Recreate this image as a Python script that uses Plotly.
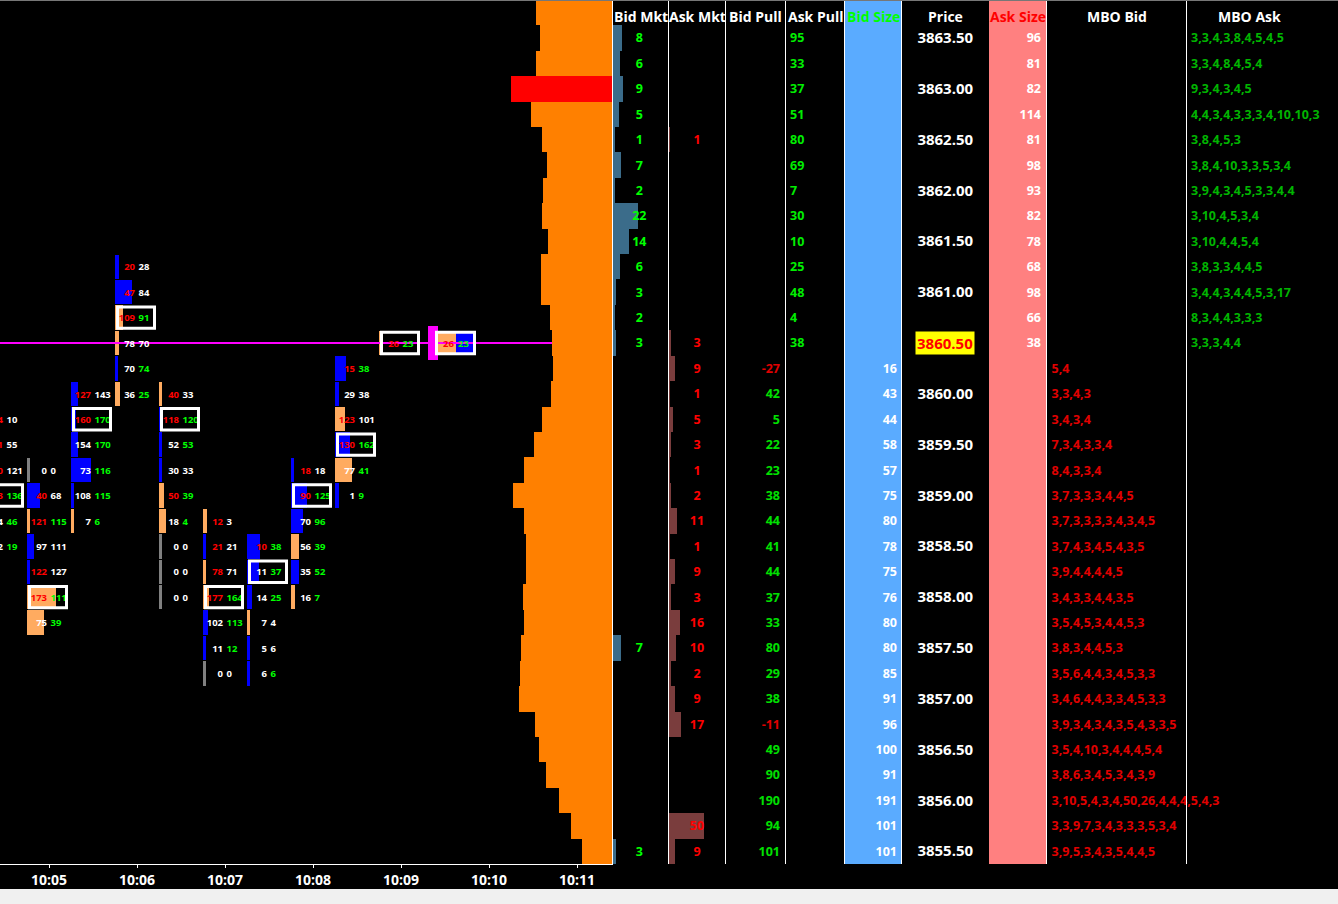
import plotly.graph_objects as go

# ======================= DATA =======================
ladder_prices = [3863.50, 3863.25, 3863.00, 3862.75, 3862.50, 3862.25, 3862.00, 3861.75,
                 3861.50, 3861.25, 3861.00, 3860.75, 3860.50, 3860.25, 3860.00, 3859.75,
                 3859.50, 3859.25, 3859.00, 3858.75, 3858.50, 3858.25, 3858.00, 3857.75,
                 3857.50, 3857.25, 3857.00, 3856.75, 3856.50, 3856.25, 3856.00, 3855.75,
                 3855.50]
last_price = 3860.50

time_tick_labels = ["10:05", "10:06", "10:07", "10:08", "10:09", "10:10", "10:11"]

# volume profile (session), one value per price row incl. the partially visible 3863.75 row
profile_prices = [3863.75] + ladder_prices
profile_volume = [1925, 1825, 1925, 2550, 2050, 1775, 1650, 1750, 1775, 1625, 1800, 1800,
                  1575, 1525, 1500, 1550, 1775, 1975, 2225, 2500, 2225, 2175, 2175, 2250,
                  2225, 2300, 2325, 2350, 1950, 1850, 1675, 1350, 1050, 775]

# footprint cells (30-second bars, labelled by bar centre time)
fp_time = (["10:04:30"] * 6 + ["10:05:00"] * 7 + ["10:05:30"] * 6 + ["10:06:00"] * 6 +
           ["10:06:30"] * 9 + ["10:07:00"] * 7 + ["10:07:30"] * 6 + ["10:08:00"] * 6 +
           ["10:08:30"] * 6 + ["10:09:00"] * 1)
fp_price = [3859.75, 3859.50, 3859.25, 3859.00, 3858.75, 3858.50,
            3859.25, 3859.00, 3858.75, 3858.50, 3858.25, 3858.00, 3857.75,
            3860.00, 3859.75, 3859.50, 3859.25, 3859.00, 3858.75,
            3861.25, 3861.00, 3860.75, 3860.50, 3860.25, 3860.00,
            3860.00, 3859.75, 3859.50, 3859.25, 3859.00, 3858.75, 3858.50, 3858.25, 3858.00,
            3858.75, 3858.50, 3858.25, 3858.00, 3857.75, 3857.50, 3857.25,
            3858.50, 3858.25, 3858.00, 3857.75, 3857.50, 3857.25,
            3859.25, 3859.00, 3858.75, 3858.50, 3858.25, 3858.00,
            3860.25, 3860.00, 3859.75, 3859.50, 3859.25, 3859.00,
            3860.50]
fp_bid = [14, 61, 130, 133, 44, 12,
          0, 40, 121, 97, 122, 173, 75,
          127, 160, 154, 73, 108, 7,
          20, 47, 109, 78, 70, 36,
          40, 118, 52, 30, 50, 18, 0, 0, 0,
          12, 21, 78, 177, 102, 11, 0,
          10, 11, 14, 7, 5, 6,
          18, 90, 70, 56, 35, 16,
          15, 29, 123, 130, 77, 1,
          26]
fp_ask = [10, 55, 121, 136, 46, 19,
          0, 68, 115, 111, 127, 111, 39,
          143, 170, 170, 116, 115, 6,
          28, 84, 91, 70, 74, 25,
          33, 120, 53, 33, 39, 4, 0, 0, 0,
          3, 21, 71, 164, 113, 12, 0,
          38, 37, 25, 4, 6, 6,
          18, 125, 96, 39, 52, 7,
          38, 38, 101, 162, 41, 9,
          23]
fp_bid_tone = list("rrrrww" "wrrwrrw" "rrwwww" "rrrwww" "rrwwrwwww" "rrrrwww" "rwwwww" "rrwwww" "rwrrww" "r")
fp_ask_tone = list("wwwggg" "wwgwwgg" "wggggg" "wwgwgg" "wggwggwww" "wwwgggw" "gggwwg" "wggggg" "gwwggg" "g")
fp_boxed = [0, 0, 0, 1, 0, 0,
            0, 0, 0, 0, 0, 1, 0,
            0, 1, 0, 0, 0, 0,
            0, 0, 1, 0, 0, 0,
            0, 1, 0, 0, 0, 0, 0, 0, 0,
            0, 0, 0, 1, 0, 0, 0,
            0, 1, 0, 0, 0, 0,
            0, 1, 0, 0, 0, 0,
            0, 0, 0, 1, 0, 0,
            1]

# live (forming) bar
live_time = "10:09:30"
live_bid = 26
live_ask = 23

N = None
# DOM ladder columns, one entry per ladder price
bid_mkt = [8, 6, 9, 5, 1, 7, 2, 22, 14, 6, 3, 2, 3, N, N, N, N, N, N, N, N, N, N, N,
           7, N, N, N, N, N, N, N, 3]
ask_mkt = [N, N, N, N, 1, N, N, N, N, N, N, N, 3, 9, 1, 5, 3, 1, 2, 11, 1, 9, 3, 16,
           10, 2, 9, 17, N, N, N, 50, 9]
bid_pull = [N] * 13 + [-27, 42, 5, 22, 23, 38, 44, 41, 44, 37, 33, 80, 29, 38, -11, 49,
                       90, 190, 94, 101]
ask_pull = [95, 33, 37, 51, 80, 69, 7, 30, 10, 25, 48, 4, 38] + [N] * 20
bid_size = [N] * 13 + [16, 43, 44, 58, 57, 75, 80, 78, 75, 76, 80, 80, 85, 91, 96, 100,
                       91, 191, 101, 101]
ask_size = [96, 81, 82, 114, 81, 98, 93, 82, 78, 68, 98, 66, 38] + [N] * 20
mbo_bid = [N] * 13 + ["5,4", "3,3,4,3", "3,4,3,4", "7,3,4,3,3,4", "8,4,3,3,4",
                      "3,7,3,3,3,4,4,5", "3,7,3,3,3,3,4,3,4,5", "3,7,4,3,4,5,4,3,5",
                      "3,9,4,4,4,4,5", "3,4,3,3,4,4,3,5", "3,5,4,5,3,4,4,5,3",
                      "3,8,3,4,4,5,3", "3,5,6,4,4,3,4,5,3,3", "3,4,6,4,4,3,3,4,5,3,3",
                      "3,9,3,4,3,4,3,5,4,3,3,5", "3,5,4,10,3,4,4,4,5,4",
                      "3,8,6,3,4,5,3,4,3,9", "3,10,5,4,3,4,50,26,4,4,4,5,4,3",
                      "3,3,9,7,3,4,3,3,3,5,3,4", "3,9,5,3,4,3,5,4,4,5"]
mbo_ask = ["3,3,4,3,8,4,5,4,5", "3,3,4,8,4,5,4", "9,3,4,3,4,5", "4,4,3,4,3,3,3,4,10,10,3",
           "3,8,4,5,3", "3,8,4,10,3,3,5,3,4", "3,9,4,3,4,5,3,3,4,4", "3,10,4,5,3,4",
           "3,10,4,4,5,4", "3,8,3,3,4,4,5", "3,4,4,3,4,4,5,3,17", "8,3,4,4,3,3,3",
           "3,3,3,4,4"] + [N] * 20

# ======================= LAYOUT CONSTANTS =======================
W, H = 1338, 904
GRID_BOTTOM = 864
HEADER_PX = 25.3
FONT = "Open Sans"
CHART_RIGHT = 612.5
PX_PER_MIN = 88.0
FIRST_TICK_PX = 49.0
PX = 1.0 / PX_PER_MIN       # minutes per pixel on the time axis
COL_MIN = 0.5               # 30-second columns
ROW = 0.25                  # tick size
TEXT_DY = -0.013            # nudge texts down ~1.3 px so digits sit centred in the row
FP_PX_PER_DELTA = 0.465
LIVE_PX_PER_LOT = 0.73
BIDMKT_PX = 1.15
ASKMKT_PX = 0.70
PROFILE_PER_PX = 25.0

RED, GREEN, WHITE = "#ff0000", "#00ff00", "#ffffff"
TONE = {"r": RED, "g": GREEN, "w": WHITE}


def to_min(s):
    parts = [int(v) for v in s.split(":")]
    sec = parts[2] if len(parts) > 2 else 0
    return (parts[0] - 10) * 60 + parts[1] + sec / 60.0


tick_vals = [to_min(t) for t in time_tick_labels]
x_lo = tick_vals[0] - FIRST_TICK_PX * PX
x_hi = x_lo + CHART_RIGHT * PX

row_px = (GRID_BOTTOM - HEADER_PX) / len(ladder_prices)
y_lo = min(ladder_prices) - ROW / 2
y_hi = max(ladder_prices) + ROW / 2 + ROW * HEADER_PX / row_px

fig = go.Figure()
shapes = []
annotations = []

# ---------------- footprint ----------------
fig.add_trace(go.Scatter(x=[x_lo, x_hi], y=[last_price, last_price], mode="lines",
                         line=dict(color="#ff00ff", width=2), hoverinfo="skip"))

centers = [to_min(t) for t in fp_time]
col_left = [c - COL_MIN / 2 for c in centers]
live_c = to_min(live_time)
live_l = live_c - COL_MIN / 2
live_split = live_l + 14 * PX + live_bid * LIVE_PX_PER_LOT * PX

# black fill behind boxed cells
bx_y = [p for p, b in zip(fp_price, fp_boxed) if b] + [last_price]
bx_base = [l + 1 * PX for l, b in zip(col_left, fp_boxed) if b] + [live_l + 12 * PX]
bx_len = [40 * PX] * (len(bx_y) - 1) + [41 * PX]
fig.add_trace(go.Bar(orientation="h", y=bx_y, x=bx_len, base=bx_base, width=0.236,
                     marker=dict(color="#000000", line=dict(width=0)), hoverinfo="skip"))

# delta bars
d_len, d_col = [], []
for b, a in zip(fp_bid, fp_ask):
    d = a - b
    d_len.append(max(3.0, FP_PX_PER_DELTA * abs(d)) * PX)
    if a == 0 and b == 0:
        d_col.append("#808080")
    elif a >= b:
        d_col.append("#0000ff")
    else:
        d_col.append("#ffab60")
fig.add_trace(go.Bar(orientation="h", y=fp_price, x=d_len, base=col_left, width=0.24,
                     marker=dict(color=d_col, line=dict(width=0)), hoverinfo="skip"))

# live bar: price marker + bid/ask split
fig.add_trace(go.Bar(orientation="h", y=[last_price], x=[9.5 * PX], base=[live_l + 5 * PX],
                     width=0.335, marker=dict(color="#ff00ff", line=dict(width=0)),
                     hoverinfo="skip"))
fig.add_trace(go.Bar(orientation="h", y=[last_price, last_price],
                     x=[live_bid * LIVE_PX_PER_LOT * PX, live_ask * LIVE_PX_PER_LOT * PX],
                     base=[live_l + 14 * PX, live_split], width=0.22,
                     marker=dict(color=["#ffab60", "#0000ff"], line=dict(width=0)),
                     hoverinfo="skip"))

# cell texts
fp_text_y = [p + TEXT_DY for p in fp_price + [last_price]]
fig.add_trace(go.Scatter(
    x=[c - 2 * PX for c in centers] + [live_split - 2 * PX],
    y=fp_text_y, mode="text",
    text=[str(v) for v in fp_bid] + [str(live_bid)], textposition="middle left",
    textfont=dict(family=FONT, size=9.5, weight="bold",
                  color=[TONE[t] for t in fp_bid_tone] + [RED]),
    hoverinfo="skip", cliponaxis=True))
fig.add_trace(go.Scatter(
    x=[c + 1.5 * PX for c in centers] + [live_split + 2 * PX],
    y=fp_text_y, mode="text",
    text=[str(v) for v in fp_ask] + [str(live_ask)], textposition="middle right",
    textfont=dict(family=FONT, size=9.5, weight="bold",
                  color=[TONE[t] for t in fp_ask_tone] + [GREEN]),
    hoverinfo="skip", cliponaxis=True))

# box borders
for l, p, b in zip(col_left, fp_price, fp_boxed):
    if b:
        shapes.append(dict(type="rect", xref="x", yref="y", x0=l + 2.5 * PX, x1=l + 39.5 * PX,
                           y0=p - 0.105, y1=p + 0.105, line=dict(color="white", width=3),
                           layer="above"))
shapes.append(dict(type="rect", xref="x", yref="y", x0=live_l + 13.5 * PX, x1=live_l + 51.5 * PX,
                   y0=last_price - 0.105, y1=last_price + 0.105,
                   line=dict(color="white", width=3), layer="above"))

# ---------------- volume profile (overlay axis, grows leftwards) ----------------
vmax = max(profile_volume)
fig.add_trace(go.Bar(orientation="h", y=profile_prices, x=profile_volume, width=ROW,
                     xaxis="x2", yaxis="y",
                     marker=dict(color=["#ff0000" if v == vmax else "#ff8000" for v in profile_volume],
                                 line=dict(width=0)), hoverinfo="skip"))

# ---------------- DOM ladder ----------------
columns = {
    "x3": (612.5, 668.5, "Bid Mkt", WHITE),
    "x4": (668.5, 725.5, "Ask Mkt", WHITE),
    "x5": (725.5, 785.5, "Bid Pull", WHITE),
    "x6": (785.5, 844.5, "Ask Pull", WHITE),
    "x7": (844.5, 901.5, "Bid Size", GREEN),
    "x8": (901.5, 989.0, "Price", WHITE),
    "x9": (989.0, 1046.5, "Ask Size", RED),
    "x10": (1046.5, 1186.5, "MBO Bid", WHITE),
    "x11": (1186.5, 1311.5, "MBO Ask", WHITE),
    "x12": (1311.5, 1338.0, "", WHITE),
}
ranges = {}
for ax, (l, r, _, _) in columns.items():
    w = r - l
    if ax == "x3":
        ranges[ax] = [0, w / BIDMKT_PX]
    elif ax == "x4":
        ranges[ax] = [0, w / ASKMKT_PX]
    else:
        ranges[ax] = [0, w]


def nonnull(vals):
    ys = [p for p, v in zip(ladder_prices, vals) if v is not None]
    vs = [v for v in vals if v is not None]
    return ys, vs


NUM = 12.5


def col_text(ax, x, pos, vals, colors, size=NUM):
    ys, vs = nonnull(vals)
    if not isinstance(colors, list):
        colors = [colors] * len(vs)
    fig.add_trace(go.Scatter(x=[x] * len(vs), y=[y + TEXT_DY for y in ys], mode="text",
                             text=[str(v) for v in vs],
                             textposition=pos, xaxis=ax, yaxis="y", cliponaxis=False,
                             textfont=dict(family=FONT, size=size, weight="bold", color=colors),
                             hoverinfo="skip"))


# bid/ask market bars
ys, vs = nonnull(bid_mkt)
fig.add_trace(go.Bar(orientation="h", y=ys, x=vs, width=ROW, xaxis="x3", yaxis="y",
                     marker=dict(color="#3b6c8a", line=dict(width=0)), hoverinfo="skip"))
ys, vs = nonnull(ask_mkt)
fig.add_trace(go.Bar(orientation="h", y=ys, x=vs, width=ROW, xaxis="x4", yaxis="y",
                     marker=dict(color="#7a3d3d", line=dict(width=0)), hoverinfo="skip"))
col_text("x3", ranges["x3"][1] / 2 - 1, "middle center", bid_mkt, GREEN)
col_text("x4", ranges["x4"][1] / 2, "middle center", ask_mkt, RED)
_, bp = nonnull(bid_pull)
col_text("x5", 54.5, "middle left", bid_pull, ["#00e000" if v > 0 else "#e00000" for v in bp])
col_text("x6", 4.5, "middle right", ask_pull, "#00ee00")
col_text("x7", 52.5, "middle left", bid_size, WHITE)
col_text("x9", 52.0, "middle left", ask_size, WHITE)
price_labels = [f"{p:.2f}" if (p * 2).is_integer() and p != last_price else None
                for p in ladder_prices]
col_text("x8", ranges["x8"][1] / 2, "middle center", price_labels, WHITE, size=15)
col_text("x10", 5.0, "middle right", mbo_bid, "#e00000")
col_text("x11", 4.5, "middle right", mbo_ask, "#00b400")

annotations.append(dict(xref="x8 domain", x=0.5, yref="y", y=last_price, yanchor="middle",
                        text=f"{last_price:.2f}",
                        showarrow=False, bgcolor="#ffff00", borderpad=1,
                        font=dict(family=FONT, size=15, weight="bold", color=RED)))

# column backgrounds
shapes.append(dict(type="rect", xref="x7 domain", x0=0, x1=1, yref="y domain", y0=0, y1=1,
                   fillcolor="#5aabff", line=dict(width=0), layer="below"))
shapes.append(dict(type="rect", xref="x9 domain", x0=0, x1=1, yref="y domain", y0=0, y1=1,
                   fillcolor="#ff8080", line=dict(width=0), layer="below"))
# separators
for ax in ["x3", "x4", "x5", "x6", "x7", "x8", "x10", "x11", "x12"]:
    shapes.append(dict(type="line", xref=f"{ax} domain", x0=0, x1=0, yref="y domain", y0=0, y1=1,
                       line=dict(color="white", width=1), layer="above"))
# headers
HEADER_Y = 1 - 16.5 / GRID_BOTTOM
for ax, (l, r, title, colr) in columns.items():
    if title:
        annotations.append(dict(xref=f"{ax} domain", x=0.5, yref="y domain", y=HEADER_Y,
                                xanchor="center", yanchor="middle", text=title, showarrow=False,
                                font=dict(family=FONT, size=14, weight="bold", color=colr)))
annotations.append(dict(xref="x12 domain", x=0.55, xanchor="left", yref="y domain",
                        y=HEADER_Y, yanchor="middle", text="Cu", showarrow=False,
                        font=dict(family=FONT, size=14, weight="bold", color=WHITE)))

# window chrome
shapes.append(dict(type="rect", xref="paper", x0=0, x1=1, yref="paper", y0=0, y1=15 / H,
                   fillcolor="#f0f0f0", line=dict(width=0), layer="above"))
shapes.append(dict(type="line", xref="paper", x0=0, x1=1, yref="paper", y0=1, y1=1,
                   line=dict(color="#777777", width=2), layer="above"))

layout = dict(
    width=W, height=H, margin=dict(l=0, r=0, t=0, b=0),
    paper_bgcolor="#000000", plot_bgcolor="#000000",
    showlegend=False, barmode="overlay", bargap=0, hovermode=False,
    font=dict(family=FONT, color=WHITE),
    shapes=shapes, annotations=annotations,
    xaxis=dict(domain=[0, CHART_RIGHT / W], range=[x_lo, x_hi], anchor="y",
               tickmode="array", tickvals=tick_vals, ticktext=time_tick_labels,
               ticks="outside", ticklen=3, tickwidth=1, tickcolor=WHITE,
               showline=True, linecolor=WHITE, linewidth=1, showgrid=False, zeroline=False,
               tickfont=dict(family=FONT, size=14, weight="bold", color=WHITE), fixedrange=True),
    xaxis2=dict(overlaying="x", anchor="y", range=[CHART_RIGHT * PROFILE_PER_PX, 0],
                visible=False, fixedrange=True),
    yaxis=dict(domain=[(H - GRID_BOTTOM) / H, 1], range=[y_lo, y_hi], anchor="x",
               visible=False, fixedrange=True),
)
for ax, (l, r, _, _) in columns.items():
    layout["xaxis" + ax[1:]] = dict(domain=[l / W, r / W], range=ranges[ax], anchor="y",
                                    visible=False, fixedrange=True)
fig.update_layout(**layout)

fig.write_html("out.html", config={"displayModeBar": False},
               post_script="document.body.style.margin='0';document.body.style.overflow='hidden';")
